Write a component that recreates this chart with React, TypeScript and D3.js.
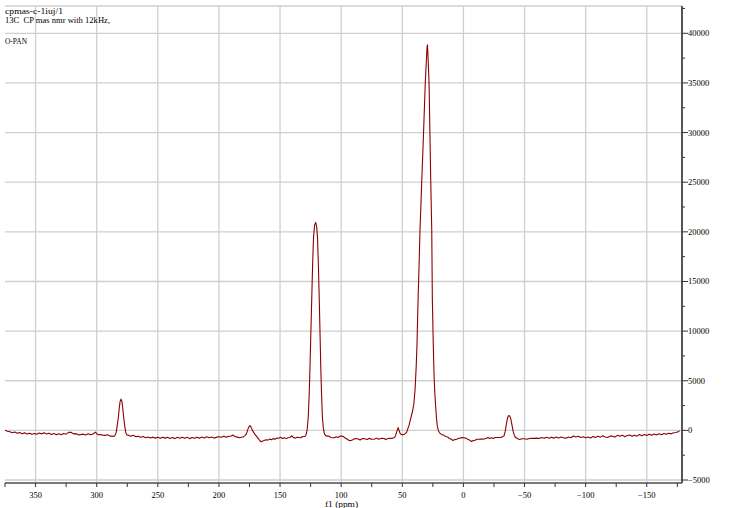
import React from "react";
import * as d3 from "d3";

const W = 730;
const H = 508;

const titleLines = ["cpmas-c-1iuj/1", "13C  CP mas nmr with 12kHz,", "O-PAN"];
const xAxisLabel = "f1 (ppm)";
const xTicks = [350, 300, 250, 200, 150, 100, 50, 0, -50, -100, -150];
const xMinorTicks = [375, 325, 275, 225, 175, 125, 75, 25, -25, -75, -125, -175];
const yTicks = [-5000, 0, 5000, 10000, 15000, 20000, 25000, 30000, 35000, 40000];
const yMinorTicks = [-2500, 2500, 7500, 12500, 17500, 22500, 27500, 32500, 37500, 42500];

// [ppm, intensity]
const baselineA: [number, number][] = [
  [375, 20], [373, -80], [371, -130], [369, -230], [367, -160], [365, -290], [363, -210], [361, -330],
  [359, -250], [357, -370], [355, -280], [353, -400], [351, -310], [349, -390], [347, -270], [345, -350],
  [343, -250], [341, -360], [339, -280], [337, -410], [335, -320], [333, -440], [331, -340], [329, -430],
  [327, -310], [325, -380], [323, -200], [321, -190], [319, -350], [317, -330], [315, -450], [313, -430],
  [311, -380], [309, -460], [307, -350], [305, -450], [303, -360], [301, -180], [299, -440], [297, -420],
  [295, -480], [293, -500], [291, -440], [289, -580], [287, -560],
];
const peak280: [number, number][] = [
  [286, -620], [285, -500], [284, -200], [283.3, 400], [282.3, 1300], [281.5, 2300], [280.8, 2950],
  [280.1, 3150], [279.4, 2950], [278.7, 2300], [277.9, 1300], [277.0, 400], [276.2, -200], [275.4, -450],
];
const baselineB: [number, number][] = [
  [274, -480], [272, -600], [270, -500], [268, -640], [266, -600], [264, -700], [262, -620], [260, -740],
  [258, -660], [256, -760], [254, -680], [252, -780], [250, -690], [248, -800], [246, -680], [244, -780],
  [242, -700], [240, -820], [238, -720], [236, -830], [234, -700], [232, -790], [230, -680], [228, -800],
  [226, -700], [224, -830], [222, -720], [220, -800], [218, -680], [216, -780], [214, -670], [212, -760],
  [210, -640], [208, -740], [206, -660], [204, -780], [202, -680], [200, -640], [198, -700], [196, -580],
  [194, -700], [192, -600], [190, -560], [188.5, -460], [187, -620], [185, -680], [183, -740], [181, -660],
];
const peak174: [number, number][] = [
  [180, -650], [178.5, -500], [177.5, -350], [176.5, 50], [175.5, 350], [174.6, 480], [173.8, 350],
  [172.9, 80], [171.8, -150], [170.8, -350], [169.5, -550], [168.2, -750], [167, -950], [165.5, -1150],
  [164.2, -1080], [163, -1020], [161.5, -940],
];
const baselineC: [number, number][] = [
  [160, -980], [158.5, -880], [157, -950], [155.5, -830], [154, -900], [152.5, -780], [151, -790],
  [149.5, -700], [148, -810], [146.5, -730], [145, -830], [143.5, -740], [142, -720], [140.5, -540],
  [139, -720], [137.5, -780], [136, -690], [134.5, -710], [133, -740], [131.5, -620], [130, -620], [129.2, -550],
];
const peak121: [number, number][] = [
  [128.5, -350], [127.8, 100], [126.9, 1400], [126.2, 3500], [125.5, 6400], [124.8, 9800], [124.1, 13100],
  [123.4, 16500], [122.6, 19500], [121.7, 20700], [120.8, 20950], [120.0, 20500], [119.3, 19300],
  [118.6, 16500], [117.9, 13100], [117.3, 9800], [116.7, 6400], [116.0, 3500], [115.4, 1400], [114.6, 250],
  [113.8, -300],
];
const baselineD: [number, number][] = [
  [113, -480], [111.5, -580], [110, -580], [108.5, -720], [107, -740], [105.5, -740], [104, -640],
  [102.5, -720], [101, -580], [99.5, -580], [98, -630], [96.5, -800], [95, -880], [93.5, -1020], [92, -1030],
  [90.5, -940], [89, -840], [87.5, -820], [86, -860], [84.5, -970], [83, -850], [81.5, -820], [80, -860],
  [78.5, -920], [77, -800], [75.5, -880], [74, -900], [72.5, -870], [71, -780], [69.5, -900], [68, -840],
  [66.5, -800], [65, -810], [63.5, -920], [62, -840], [60.5, -800], [59, -800], [57.5, -780], [56.2, -700],
];
const peak30: [number, number][] = [
  [55.2, -400], [54.3, -50], [53.4, 280], [52.6, 0], [51.8, -300], [50.8, -420], [49.5, -430], [48.3, -380],
  [47.2, -300], [46.3, -150], [45.5, 150], [44.5, 500], [43.5, 1000], [42.5, 1500], [41.5, 2000],
  [40.5, 2700], [39.5, 4200], [38.6, 6500], [38.0, 8500], [37.1, 13100], [36.3, 16500], [35.5, 20200],
  [34.1, 25000], [32.6, 30000], [31.2, 35000], [29.8, 38500], [29.4, 38850], [28.9, 37500], [28.1, 35000],
  [27.4, 30000], [26.7, 25000], [25.9, 20200], [25.4, 13100], [24.6, 8400], [24.0, 5500], [23.4, 3800],
  [22.7, 2400], [22.0, 1200], [21.3, 400], [20.5, 0], [19.5, -250], [18.5, -350],
];
const baselineE: [number, number][] = [
  [17.5, -440], [16, -500], [14.5, -620], [13, -660], [11.5, -820], [10, -880], [8.5, -1020], [7, -930],
  [5.5, -900], [4, -800], [2.5, -780], [1, -710], [-0.5, -740], [-2, -780], [-3.5, -900], [-5, -980],
  [-6.5, -1120], [-8, -1030], [-9.5, -1000], [-11, -900], [-12.5, -900], [-14, -880], [-15.5, -880],
  [-17, -860], [-18.5, -820], [-20, -710], [-21.5, -810], [-23, -740], [-24.5, -820], [-26, -720],
  [-27.5, -720], [-29, -720], [-30.5, -720], [-32, -640],
];
const peakNeg38: [number, number][] = [
  [-33.2, -550], [-34.2, -100], [-35.0, 500], [-35.8, 1100], [-36.7, 1450], [-37.5, 1500], [-38.3, 1350],
  [-39.2, 900], [-40.0, 350], [-40.8, -150], [-41.8, -550], [-43, -750],
];
const baselineF: [number, number][] = [
  [-44.5, -850], [-46, -920], [-48, -840], [-50, -840], [-52, -900], [-54, -820], [-56, -800], [-58, -800],
  [-60, -780], [-62, -820], [-64, -720], [-66, -800], [-68, -700], [-70, -790], [-72, -680], [-74, -780],
  [-76, -670], [-78, -760], [-80, -660], [-82, -750], [-84, -780], [-86, -670], [-88, -740], [-90, -560],
  [-92, -670], [-94, -600], [-96, -720], [-98, -640], [-100, -740], [-102, -660], [-104, -760], [-106, -620],
  [-108, -720], [-110, -580], [-112, -680], [-114, -540], [-116, -660], [-118, -720], [-120, -580],
  [-122, -580], [-124, -670], [-126, -500], [-128, -600], [-130, -480], [-132, -640], [-134, -520],
  [-136, -470], [-138, -600], [-140, -480], [-142, -580], [-144, -420], [-146, -540], [-148, -410],
  [-150, -520], [-152, -380], [-154, -500], [-156, -360], [-158, -460], [-160, -340], [-162, -440],
  [-164, -310], [-166, -400], [-168, -280], [-170, -350], [-172, -240], [-174, -210], [-176, -100], [-177, -30],
];

const spectrum = [
  ...baselineA, ...peak280, ...baselineB, ...peak174, ...baselineC, ...peak121,
  ...baselineD, ...peak30, ...baselineE, ...peakNeg38, ...baselineF,
].sort((a, b) => b[0] - a[0]);

const fmt = (v: number) => (v < 0 ? "\u2212" + Math.abs(v) : String(v));

export default function App() {
  const left = 5, right = 681, top = 6, bottom = 483;
  const x = d3.scaleLinear().domain([375, -178]).range([left, right]);
  const y = d3.scaleLinear().domain([-5300, 42750]).range([bottom, top]);
  const line = d3.line<[number, number]>().x((d) => x(d[0])).y((d) => y(d[1]));
  const axisX = 682;
  const grid = "#cfcfcf";
  const serif = "'Liberation Serif', 'DejaVu Serif', serif";

  return (
    <svg width={W} height={H} style={{ position: "absolute", left: 0, top: 0, background: "#fff" }}>
      <rect x={0} y={0} width={W} height={H} fill="#fff" />
      {/* grid */}
      {xTicks.map((t) => (
        <line key={"gx" + t} x1={x(t)} x2={x(t)} y1={top} y2={bottom} stroke={grid} strokeWidth={1.3} />
      ))}
      {yTicks.map((t) => (
        <line key={"gy" + t} x1={left} x2={right} y1={y(t)} y2={y(t)} stroke={grid} strokeWidth={1.3} />
      ))}
      <line x1={left} x2={axisX} y1={top} y2={top} stroke={grid} strokeWidth={1.3} />
      {/* spectrum */}
      <path d={line(spectrum as [number, number][]) || ""} fill="none" stroke="#8b0000" strokeWidth={1.1} strokeLinejoin="round" />
      {/* bottom axis */}
      <line x1={left} x2={axisX} y1={bottom} y2={bottom} stroke="#7a7a7a" strokeWidth={2} />
      {[...xTicks, ...xMinorTicks].map((t) => (
        <line key={"tx" + t} x1={x(t)} x2={x(t)} y1={bottom} y2={bottom + 4} stroke="#333" strokeWidth={1} />
      ))}
      {xTicks.map((t) => (
        <text key={"lx" + t} x={x(t)} y={497.5} fontFamily={serif} fontSize={8.5} textAnchor="middle" fill="#000">
          {fmt(t)}
        </text>
      ))}
      <text x={341.5} y={506.5} fontFamily={serif} fontSize={8} textAnchor="middle" textLength={33} lengthAdjust="spacingAndGlyphs" fill="#000" style={{ whiteSpace: "pre" }}>
        {xAxisLabel}
      </text>
      {/* right axis */}
      <line x1={axisX} x2={axisX} y1={top} y2={bottom} stroke="#555" strokeWidth={2} />
      {yTicks.map((t) => (
        <line key={"ty" + t} x1={axisX} x2={axisX + 6} y1={y(t)} y2={y(t)} stroke="#333" strokeWidth={1} />
      ))}
      {yMinorTicks.map((t) => (
        <line key={"tym" + t} x1={axisX} x2={axisX + 3} y1={y(t)} y2={y(t)} stroke="#333" strokeWidth={1} />
      ))}
      {yTicks.map((t) => (
        <text key={"ly" + t} x={688} y={y(t) + 3} fontFamily={serif} fontSize={8.5} fill="#000">
          {fmt(t)}
        </text>
      ))}
      {/* title */}
      <text x={5} y={14} fontFamily={serif} fontSize={9} textLength={58} lengthAdjust="spacingAndGlyphs" fill="#000">
        {titleLines[0]}
      </text>
      <text x={5} y={23} fontFamily={serif} fontSize={9} textLength={105} lengthAdjust="spacingAndGlyphs" fill="#000" style={{ whiteSpace: "pre" }}>
        {titleLines[1]}
      </text>
      <text x={5} y={44} fontFamily={serif} fontSize={9} textLength={22} lengthAdjust="spacingAndGlyphs" fill="#000">
        {titleLines[2]}
      </text>
    </svg>
  );
}
